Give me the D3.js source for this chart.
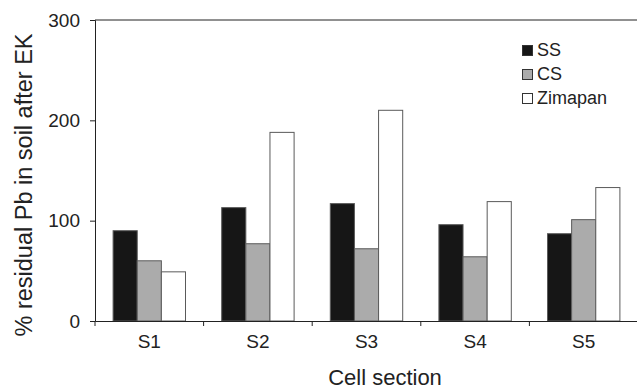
<!DOCTYPE html>
<html>
<head>
<meta charset="utf-8">
<script src="https://cdn.jsdelivr.net/npm/d3@7"></script>
<style>
  body { margin: 0; background: #fff; }
  svg { display: block; font-family: "Liberation Sans", Arial, Helvetica, sans-serif; }
</style>
</head>
<body>
<div id="chart-area"></div>
<script>
var w = 637;
var h = 389;

var sections = ["S1", "S2", "S3", "S4", "S5"];
var series = ["SS", "CS", "Zimapan"];
var ssValues = [90, 113, 117, 96, 87];
var csValues = [60, 77, 72, 64, 101];
var zimValues = [49, 188, 210, 119, 133];
var yTicks = [0, 100, 200, 300];

var colors = {"SS": "#161616", "CS": "#ababab", "Zimapan": "#ffffff"};

var rows = sections.map(function(s, i) {
  return {section: s, SS: ssValues[i], CS: csValues[i], Zimapan: zimValues[i]};
});

var margin = {left: 95, top: 20, right: -1, bottom: 68};

var svg = d3.select('#chart-area').append('svg')
    .attr('width', w)
    .attr('height', h);

var x0 = d3.scaleBand()
    .domain(sections)
    .range([margin.left, w - margin.right])
    .padding(0);

var x1 = d3.scaleBand()
    .domain(series)
    .range([0, x0.bandwidth()])
    .paddingInner(0)
    .paddingOuter(0.75);

var y = d3.scaleLinear()
    .domain([0, 300])
    .range([h - margin.bottom, margin.top]);

// bars
var groups = svg.append('g').selectAll('g')
    .data(rows)
    .enter()
    .append('g')
    .attr('transform', function(d) { return 'translate(' + x0(d.section) + ',0)'; });

groups.selectAll('rect')
    .data(function(d) { return series.map(function(k) { return {key: k, value: d[k]}; }); })
    .enter()
    .append('rect')
    .attr('x', function(d) { return x1(d.key); })
    .attr('y', function(d) { return y(d.value); })
    .attr('width', x1.bandwidth())
    .attr('height', function(d) { return y(0) - y(d.value); })
    .attr('fill', function(d) { return colors[d.key]; })
    .attr('stroke', '#5a5a5a')
    .attr('stroke-width', 1);

// y axis
var yAxis = svg.append('g')
    .attr('transform', 'translate(' + margin.left + ',0)')
    .call(d3.axisLeft(y).tickValues(yTicks).tickSize(5).tickPadding(10).tickFormat(d3.format('d')));
yAxis.select('.domain').attr('stroke', '#222');
yAxis.selectAll('.tick line').attr('stroke', '#222');
yAxis.selectAll('text').attr('font-size', 19).attr('fill', '#222')
    .attr('font-family', '"Liberation Sans", Arial, sans-serif');

// x axis (labels centred, ticks at section boundaries)
var xAxis = svg.append('g')
    .attr('transform', 'translate(0,' + y(0) + ')')
    .call(d3.axisBottom(x0).tickSize(0).tickPadding(14));
xAxis.select('.domain').attr('stroke', '#222');
xAxis.selectAll('text').attr('font-size', 19).attr('fill', '#222')
    .attr('font-family', '"Liberation Sans", Arial, sans-serif');
xAxis.selectAll('.bound')
    .data(sections)
    .enter()
    .append('line')
    .attr('class', 'bound')
    .attr('x1', function(d) { return x0(d); })
    .attr('x2', function(d) { return x0(d); })
    .attr('y1', 0)
    .attr('y2', 5)
    .attr('stroke', '#222');

// top frame line
svg.append('line')
    .attr('x1', margin.left)
    .attr('x2', w)
    .attr('y1', y(300))
    .attr('y2', y(300))
    .attr('stroke', '#222');

// axis titles
svg.append('text')
    .attr('x', 385)
    .attr('y', 385)
    .attr('text-anchor', 'middle')
    .attr('font-size', 22)
    .attr('fill', '#222')
    .text('Cell section');

svg.append('text')
    .attr('transform', 'translate(32,185) rotate(-90)')
    .attr('text-anchor', 'middle')
    .attr('font-size', 23.5)
    .attr('fill', '#222')
    .text('% residual Pb in soil after EK');

// legend
var legend = svg.append('g')
    .attr('transform', 'translate(522,45)');
var legendItem = legend.selectAll('g')
    .data(series)
    .enter()
    .append('g')
    .attr('transform', function(d, i) { return 'translate(0,' + i * 24 + ')'; });
legendItem.append('rect')
    .attr('x', 0.5)
    .attr('y', 0.5)
    .attr('width', 10)
    .attr('height', 10)
    .attr('fill', function(d) { return colors[d]; })
    .attr('stroke', '#333');
legendItem.append('text')
    .attr('x', 15)
    .attr('y', 11)
    .attr('font-size', 18)
    .attr('fill', '#222')
    .text(function(d) { return d; });
</script>
</body>
</html>
